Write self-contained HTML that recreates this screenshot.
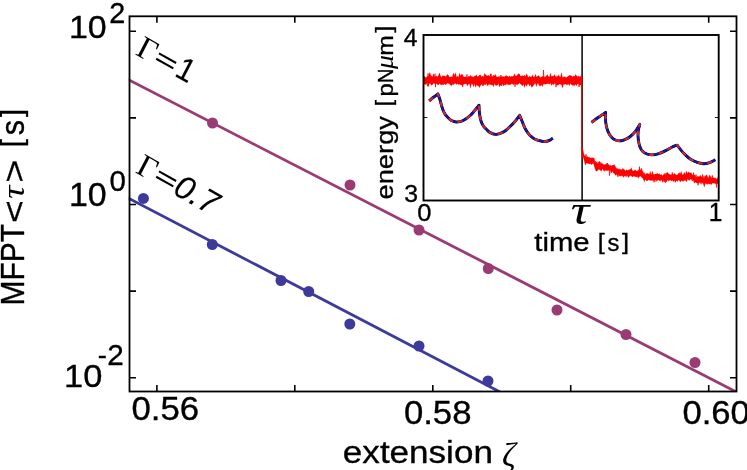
<!DOCTYPE html>
<html><head><meta charset="utf-8"><title>chart</title>
<style>
html,body{margin:0;padding:0;background:#fff;overflow:hidden;}
svg{display:block;will-change:transform;}
text{fill:#000;}
</style></head><body>
<svg width="747" height="470" viewBox="0 0 747 470">
<rect x="0" y="0" width="747" height="470" fill="#fff"/>
<defs><clipPath id="cm"><rect x="128.7" y="16.3" width="608.6" height="375.2"/></clipPath><clipPath id="ci"><rect x="423" y="34.5" width="296" height="166"/></clipPath></defs>
<g clip-path="url(#cm)">
<line x1="128" y1="79.5" x2="738" y2="392.8" stroke="#9a3b74" stroke-width="2.8"/>
<line x1="128" y1="198.0" x2="501" y2="392.5" stroke="#3e3a9c" stroke-width="2.8"/>
</g>
<circle cx="212.5" cy="123" r="5.5" fill="#9a3b74"/>
<circle cx="350" cy="185" r="5.5" fill="#9a3b74"/>
<circle cx="419" cy="230" r="5.5" fill="#9a3b74"/>
<circle cx="488.3" cy="268.5" r="5.5" fill="#9a3b74"/>
<circle cx="557" cy="310" r="5.5" fill="#9a3b74"/>
<circle cx="626" cy="334.5" r="5.5" fill="#9a3b74"/>
<circle cx="695" cy="362.5" r="5.5" fill="#9a3b74"/>
<circle cx="143.4" cy="198.4" r="5.5" fill="#3e3a9c"/>
<circle cx="212.3" cy="244.5" r="5.5" fill="#3e3a9c"/>
<circle cx="281" cy="280.5" r="5.5" fill="#3e3a9c"/>
<circle cx="308.7" cy="291.5" r="5.5" fill="#3e3a9c"/>
<circle cx="349.8" cy="324" r="5.5" fill="#3e3a9c"/>
<circle cx="419" cy="346" r="5.5" fill="#3e3a9c"/>
<circle cx="488" cy="381" r="5.5" fill="#3e3a9c"/>
<rect x="129.5" y="16.3" width="607.0" height="375.2" fill="none" stroke="#000" stroke-width="1.8"/>
<path d="M156.9 391.5v-6.5M156.9 16.3v6.5M294.8 391.5v-6.5M294.8 16.3v6.5M432.8 391.5v-6.5M432.8 16.3v6.5M570.7 391.5v-6.5M570.7 16.3v6.5M708.7 391.5v-6.5M708.7 16.3v6.5M129.5 31.3h6.5M736.5 31.3h-6.5M129.5 117.9h6.5M736.5 117.9h-6.5M129.5 204.5h6.5M736.5 204.5h-6.5M129.5 291.1h6.5M736.5 291.1h-6.5M129.5 377.7h6.5M736.5 377.7h-6.5" stroke="#000" stroke-width="1.6" fill="none"/>
<text transform="matrix(0.34785 0 0 0.32324 131.434 420.402)" font-size="100" font-family="Liberation Sans" font-style="normal" stroke="#000" stroke-width="1.04" stroke-linejoin="round">0.56</text>
<text transform="matrix(0.34758 0 0 0.32887 403.885 424.196)" font-size="100" font-family="Liberation Sans" font-style="normal" stroke="#000" stroke-width="1.03" stroke-linejoin="round">0.58</text>
<text transform="matrix(0.34679 0 0 0.32606 682.388 423.999)" font-size="100" font-family="Liberation Sans" font-style="normal" stroke="#000" stroke-width="1.04" stroke-linejoin="round">0.60</text>
<text transform="matrix(0.33990 0 0 0.32183 68.956 37.803)" font-size="100" font-family="Liberation Sans" font-style="normal" stroke="#000" stroke-width="1.06" stroke-linejoin="round">10</text>
<text transform="matrix(0.28804 0 0 0.29643 109.335 22.825)" font-size="100" font-family="Liberation Sans" font-style="normal" stroke="#000" stroke-width="1.20" stroke-linejoin="round">2</text>
<text transform="matrix(0.33990 0 0 0.32324 68.956 205.902)" font-size="100" font-family="Liberation Sans" font-style="normal" stroke="#000" stroke-width="1.06" stroke-linejoin="round">10</text>
<text transform="matrix(0.29479 0 0 0.30352 109.596 190.721)" font-size="100" font-family="Liberation Sans" font-style="normal" stroke="#000" stroke-width="1.17" stroke-linejoin="round">0</text>
<text transform="matrix(0.34495 0 0 0.32183 64.015 387.203)" font-size="100" font-family="Liberation Sans" font-style="normal" stroke="#000" stroke-width="1.05" stroke-linejoin="round">10</text>
<text transform="matrix(0.27400 0 0 0.25625 97.779 363.919)" font-size="100" font-family="Liberation Sans" font-style="normal" stroke="#000" stroke-width="1.32" stroke-linejoin="round">-</text>
<text transform="matrix(0.29674 0 0 0.28643 107.191 364.725)" font-size="100" font-family="Liberation Sans" font-style="normal" stroke="#000" stroke-width="1.20" stroke-linejoin="round">2</text>
<text transform="matrix(0.35060 0 0 0.30473 342.873 462.820)" font-size="100" font-family="Liberation Sans" font-style="normal" stroke="#000" stroke-width="1.07" stroke-linejoin="round">extension</text>
<text transform="matrix(0.34186 0 0 0.33448 501.974 465.814)" font-size="100" font-family="Liberation Serif" font-style="italic">ζ</text>
<text transform="rotate(-90) matrix(0.29981 0 0 0.32536 -305.423 23.825)" font-size="100" font-family="Liberation Sans" font-style="normal" stroke="#000" stroke-width="1.12" stroke-linejoin="round">MFPT</text>
<text transform="rotate(-90) matrix(0.39082 0 0 0.32100 -223.079 24.593)" font-size="100" font-family="Liberation Sans" font-style="normal" stroke="#000" stroke-width="0.98" stroke-linejoin="round">&lt;</text>
<text transform="rotate(-90) matrix(0.37027 0 0 0.31702 -198.741 23.983)" font-size="100" font-family="Liberation Serif" font-style="italic">τ</text>
<text transform="rotate(-90) matrix(0.39898 0 0 0.32100 -182.820 24.593)" font-size="100" font-family="Liberation Sans" font-style="normal" stroke="#000" stroke-width="0.97" stroke-linejoin="round">&gt;</text>
<text transform="rotate(-90) matrix(0.29250 0 0 0.28989 -147.272 21.537)" font-size="100" font-family="Liberation Sans" font-style="normal" stroke="#000" stroke-width="1.20" stroke-linejoin="round">[</text>
<text transform="rotate(-90) matrix(0.30581 0 0 0.32909 -135.242 23.796)" font-size="100" font-family="Liberation Sans" font-style="normal" stroke="#000" stroke-width="1.10" stroke-linejoin="round">s</text>
<text transform="rotate(-90) matrix(0.29250 0 0 0.28989 -117.118 21.537)" font-size="100" font-family="Liberation Sans" font-style="normal" stroke="#000" stroke-width="1.20" stroke-linejoin="round">]</text>
<text transform="matrix(0.87036 0.49242 -0.46175 0.88701 135.46 54.4) matrix(0.32692 0 0 0.31846 -0.981 0.000)" font-size="100" font-family="Liberation Serif" font-style="normal">Γ</text>
<g transform="matrix(0.87036 0.49242 -0.46175 0.88701 135.46 54.4)"><rect x="20.4" y="-13.6" width="19.7" height="2.1"/><rect x="20.4" y="-7.5" width="19.7" height="2.1"/></g>
<text transform="matrix(0.87036 0.49242 -0.46175 0.88701 135.46 54.4) matrix(0.30930 0 0 0.32464 43.376 -0.550)" font-size="100" font-family="Liberation Sans" font-style="normal" stroke="#000" stroke-width="0.32" stroke-linejoin="round">1</text>
<text transform="matrix(0.87036 0.49242 -0.46175 0.88701 135.46 172.4) matrix(0.32692 0 0 0.31846 -0.981 0.000)" font-size="100" font-family="Liberation Serif" font-style="normal">Γ</text>
<g transform="matrix(0.87036 0.49242 -0.46175 0.88701 135.46 172.4)"><rect x="20.4" y="-13.6" width="19.7" height="2.1"/><rect x="20.4" y="-7.5" width="19.7" height="2.1"/></g>
<text transform="matrix(0.87036 0.49242 -0.46175 0.88701 135.46 172.4) matrix(0.33116 0 0 0.32958 41.725 0.220)" font-size="100" font-family="Liberation Sans" font-style="italic" stroke="#000" stroke-width="0.30" stroke-linejoin="round">0.7</text>
<rect x="423.5" y="35.0" width="295.20000000000005" height="165.5" fill="#fff"/>
<line x1="582.1" y1="35.0" x2="582.1" y2="200.5" stroke="#000" stroke-width="1.5"/>
<g clip-path="url(#ci)"><path d="M423.50 75.73L424.50 76.38L425.50 77.50L426.50 77.18L427.50 76.27L428.50 76.26L429.50 72.54L430.50 74.57L431.50 76.78L432.50 77.02L433.50 75.90L434.50 76.73L435.50 76.47L436.50 75.99L437.50 76.93L438.50 75.61L439.50 72.86L440.50 76.12L441.50 77.32L442.50 75.74L443.50 75.92L444.50 75.81L445.50 76.84L446.50 76.21L447.50 74.27L448.50 75.51L449.50 77.32L450.50 77.09L451.50 76.71L452.50 77.22L453.50 74.26L454.50 76.45L455.50 72.78L456.50 77.51L457.50 76.08L458.50 77.55L459.50 73.08L460.50 76.61L461.50 74.28L462.50 74.49L463.50 76.65L464.50 77.28L465.50 76.66L466.50 77.33L467.50 77.37L468.50 76.18L469.50 76.55L470.50 75.20L471.50 76.54L472.50 76.69L473.50 77.18L474.50 75.99L475.50 76.11L476.50 74.69L477.50 76.85L478.50 76.57L479.50 74.96L480.50 75.05L481.50 77.06L482.50 75.98L483.50 77.06L484.50 73.39L485.50 74.48L486.50 76.34L487.50 76.01L488.50 75.15L489.50 76.58L490.50 73.63L491.50 76.86L492.50 76.16L493.50 76.88L494.50 75.48L495.50 74.44L496.50 77.07L497.50 77.16L498.50 76.86L499.50 76.77L500.50 76.31L501.50 76.88L502.50 76.53L503.50 76.91L504.50 76.99L505.50 75.69L506.50 75.83L507.50 76.33L508.50 77.08L509.50 75.76L510.50 77.03L511.50 76.31L512.50 76.52L513.50 76.18L514.50 73.71L515.50 75.88L516.50 76.07L517.50 74.71L518.50 73.81L519.50 74.01L520.50 76.59L521.50 77.28L522.50 75.39L523.50 76.16L524.50 75.05L525.50 76.68L526.50 73.87L527.50 76.45L528.50 77.20L529.50 76.12L530.50 77.00L531.50 76.68L532.50 74.90L533.50 77.30L534.50 76.91L535.50 74.27L536.50 77.32L537.50 76.43L538.50 75.43L539.50 76.74L540.50 77.41L541.50 77.10L542.50 76.46L543.50 76.18L544.50 77.17L545.50 76.91L546.50 75.47L547.50 76.34L548.50 76.75L549.50 76.79L550.50 73.32L551.50 76.46L552.50 76.11L553.50 76.16L554.50 74.58L555.50 76.73L556.50 77.22L557.50 76.99L558.50 74.89L559.50 76.62L560.50 77.19L561.50 72.82L562.50 77.78L563.50 76.96L564.50 76.68L565.50 77.24L566.50 77.44L567.50 76.75L568.50 76.07L569.50 75.59L570.50 75.92L571.50 75.78L572.50 77.02L573.50 75.95L574.50 76.57L575.50 74.38L576.50 76.03L577.50 76.53L578.50 76.37L579.50 76.72L580.50 76.38L581.50 75.15L581.50 84.85L580.50 85.11L579.50 85.09L578.50 83.39L577.50 83.28L576.50 85.71L575.50 84.49L574.50 83.89L573.50 85.61L572.50 85.28L571.50 84.76L570.50 83.31L569.50 85.61L568.50 84.28L567.50 83.85L566.50 84.46L565.50 83.95L564.50 84.55L563.50 83.84L562.50 87.89L561.50 84.21L560.50 84.38L559.50 84.06L558.50 84.85L557.50 85.33L556.50 85.06L555.50 83.33L554.50 83.46L553.50 84.85L552.50 83.82L551.50 85.48L550.50 83.11L549.50 84.09L548.50 83.52L547.50 83.27L546.50 83.93L545.50 84.12L544.50 83.89L543.50 83.75L542.50 86.44L541.50 84.64L540.50 85.85L539.50 85.97L538.50 83.79L537.50 83.00L536.50 86.43L535.50 83.02L534.50 83.83L533.50 85.26L532.50 86.73L531.50 87.36L530.50 83.82L529.50 84.07L528.50 84.24L527.50 84.14L526.50 86.26L525.50 84.36L524.50 87.45L523.50 84.01L522.50 85.90L521.50 84.87L520.50 83.73L519.50 82.76L518.50 83.93L517.50 84.65L516.50 83.95L515.50 84.32L514.50 83.61L513.50 84.99L512.50 83.59L511.50 83.66L510.50 84.63L509.50 84.53L508.50 85.09L507.50 83.63L506.50 83.83L505.50 85.25L504.50 84.53L503.50 85.88L502.50 84.14L501.50 83.97L500.50 85.45L499.50 86.78L498.50 83.44L497.50 84.88L496.50 85.42L495.50 85.30L494.50 83.62L493.50 86.83L492.50 84.66L491.50 85.06L490.50 84.44L489.50 84.17L488.50 84.41L487.50 85.89L486.50 83.30L485.50 85.05L484.50 84.15L483.50 85.00L482.50 82.93L481.50 84.50L480.50 85.39L479.50 87.56L478.50 85.39L477.50 84.95L476.50 84.67L475.50 87.25L474.50 83.45L473.50 86.63L472.50 83.91L471.50 83.16L470.50 88.07L469.50 83.63L468.50 83.89L467.50 85.88L466.50 83.89L465.50 83.62L464.50 83.82L463.50 84.19L462.50 84.98L461.50 84.95L460.50 84.84L459.50 84.32L458.50 84.50L457.50 83.85L456.50 84.41L455.50 83.14L454.50 83.78L453.50 84.71L452.50 84.32L451.50 85.76L450.50 85.02L449.50 84.07L448.50 83.60L447.50 83.07L446.50 83.90L445.50 85.11L444.50 83.86L443.50 84.65L442.50 84.73L441.50 84.87L440.50 84.59L439.50 83.58L438.50 84.98L437.50 84.52L436.50 83.47L435.50 84.20L434.50 83.43L433.50 83.32L432.50 84.53L431.50 85.32L430.50 83.65L429.50 83.19L428.50 86.79L427.50 83.09L426.50 83.76L425.50 84.51L424.50 84.16L423.50 83.47ZM582.30 147.53L583.30 151.10L584.30 155.90L585.30 155.88L586.30 157.13L587.30 156.18L588.30 157.44L589.30 157.29L590.30 158.03L591.30 157.88L592.30 157.80L593.30 157.89L594.30 158.28L595.30 164.57L596.30 161.78L597.30 163.36L598.30 163.88L599.30 161.12L600.30 162.79L601.30 164.61L602.30 163.42L603.30 164.49L604.30 164.65L605.30 164.62L606.30 163.74L607.30 163.17L608.30 164.47L609.30 165.42L610.30 165.13L611.30 165.84L612.30 165.85L613.30 165.05L614.30 164.83L615.30 166.60L616.30 168.30L617.30 168.81L618.30 169.63L619.30 169.96L620.30 170.03L621.30 169.69L622.30 169.65L623.30 170.49L624.30 170.12L625.30 171.17L626.30 169.77L627.30 170.40L628.30 170.05L629.30 170.28L630.30 169.99L631.30 167.80L632.30 170.43L633.30 170.99L634.30 170.46L635.30 169.78L636.30 171.13L637.30 170.85L638.30 170.72L639.30 168.48L640.30 170.87L641.30 168.05L642.30 170.61L643.30 172.21L644.30 174.55L645.30 174.39L646.30 173.40L647.30 174.12L648.30 174.41L649.30 174.45L650.30 171.39L651.30 175.00L652.30 171.19L653.30 174.24L654.30 174.54L655.30 174.36L656.30 173.89L657.30 173.31L658.30 174.19L659.30 173.69L660.30 174.93L661.30 174.27L662.30 175.97L663.30 174.63L664.30 174.20L665.30 175.31L666.30 172.89L667.30 172.20L668.30 173.70L669.30 174.10L670.30 174.68L671.30 174.95L672.30 171.90L673.30 175.08L674.30 173.34L675.30 175.22L676.30 175.20L677.30 174.80L678.30 173.64L679.30 172.66L680.30 173.78L681.30 171.49L682.30 174.95L683.30 174.75L684.30 172.33L685.30 174.43L686.30 171.03L687.30 173.54L688.30 171.64L689.30 172.77L690.30 172.94L691.30 172.87L692.30 174.93L693.30 174.92L694.30 174.79L695.30 177.14L696.30 177.01L697.30 177.55L698.30 176.51L699.30 176.83L700.30 175.29L701.30 176.30L702.30 177.70L703.30 177.74L704.30 178.39L705.30 176.20L706.30 174.83L707.30 175.64L708.30 178.51L709.30 175.17L710.30 175.77L711.30 178.53L712.30 175.08L713.30 177.92L714.30 178.21L715.30 177.56L716.30 179.31L717.30 178.30L718.30 176.89L718.30 183.95L717.30 183.52L716.30 184.28L715.30 183.53L714.30 183.18L713.30 183.21L712.30 182.98L711.30 184.81L710.30 183.72L709.30 184.06L708.30 183.46L707.30 184.47L706.30 183.03L705.30 183.57L704.30 187.04L703.30 183.65L702.30 182.87L701.30 182.58L700.30 182.23L699.30 182.75L698.30 183.19L697.30 182.93L696.30 182.34L695.30 182.16L694.30 183.32L693.30 180.28L692.30 181.03L691.30 179.22L690.30 178.92L689.30 180.61L688.30 179.32L687.30 179.37L686.30 181.85L685.30 179.90L684.30 180.56L683.30 180.63L682.30 181.02L681.30 180.43L680.30 181.95L679.30 180.31L678.30 179.88L677.30 181.48L676.30 180.45L675.30 182.60L674.30 180.35L673.30 181.72L672.30 180.05L671.30 180.30L670.30 180.16L669.30 180.33L668.30 180.99L667.30 180.11L666.30 181.94L665.30 180.43L664.30 182.35L663.30 179.86L662.30 181.33L661.30 179.81L660.30 181.10L659.30 180.42L658.30 179.77L657.30 180.87L656.30 179.43L655.30 179.28L654.30 180.01L653.30 180.61L652.30 180.39L651.30 180.15L650.30 180.42L649.30 180.00L648.30 179.78L647.30 180.32L646.30 180.19L645.30 179.40L644.30 181.72L643.30 178.22L642.30 177.66L641.30 176.92L640.30 175.74L639.30 176.83L638.30 178.22L637.30 176.42L636.30 176.88L635.30 176.67L634.30 176.15L633.30 176.19L632.30 176.69L631.30 176.02L630.30 175.48L629.30 176.14L628.30 177.54L627.30 175.57L626.30 174.69L625.30 176.57L624.30 175.70L623.30 177.48L622.30 175.60L621.30 175.78L620.30 176.23L619.30 175.64L618.30 174.64L617.30 175.87L616.30 174.35L615.30 175.03L614.30 173.31L613.30 172.98L612.30 171.04L611.30 173.28L610.30 170.13L609.30 171.01L608.30 170.03L607.30 170.63L606.30 170.46L605.30 170.47L604.30 169.80L603.30 170.07L602.30 168.77L601.30 171.55L600.30 169.92L599.30 169.21L598.30 169.53L597.30 170.84L596.30 171.36L595.30 169.75L594.30 165.54L593.30 163.29L592.30 163.95L591.30 164.77L590.30 163.56L589.30 163.71L588.30 163.24L587.30 163.25L586.30 162.92L585.30 165.31L584.30 160.86L583.30 157.43L582.30 153.59Z" fill="#ff0000" stroke="#ff0000" stroke-width="0.3" stroke-linejoin="round"/><path d="M423.50 81.45L424.00 80.78L424.50 79.54L425.00 79.39L425.50 78.44L426.00 81.48L426.50 78.97L427.00 83.53L427.50 86.29L428.00 73.44L428.50 79.95L429.00 78.50L429.50 75.86L430.00 82.61L430.50 78.12L431.00 80.69L431.50 76.54L432.00 75.72L432.50 78.10L433.00 82.62L433.50 74.20L434.00 79.48L434.50 82.68L435.00 73.67L435.50 87.19L436.00 76.69L436.50 82.69L437.00 79.10L437.50 81.02L438.00 78.88L438.50 75.99L439.00 83.25L439.50 80.84L440.00 82.97L440.50 81.76L441.00 81.72L441.50 83.66L442.00 81.54L442.50 81.01L443.00 79.15L443.50 78.69L444.00 78.65L444.50 76.76L445.00 82.08L445.50 84.01L446.00 80.85L446.50 80.70L447.00 75.62L447.50 79.03L448.00 80.52L448.50 82.75L449.00 82.52L449.50 79.57L450.00 79.45L450.50 79.40L451.00 80.23L451.50 81.69L452.00 79.86L452.50 79.74L453.00 75.37L453.50 73.54L454.00 80.65L454.50 82.39L455.00 74.24L455.50 80.36L456.00 78.71L456.50 80.90L457.00 78.92L457.50 80.85L458.00 82.34L458.50 81.97L459.00 80.69L459.50 77.85L460.00 75.11L460.50 82.79L461.00 82.50L461.50 82.70L462.00 77.84L462.50 87.03L463.00 85.49L463.50 80.92L464.00 78.28L464.50 77.37L465.00 83.83L465.50 80.27L466.00 79.45L466.50 75.32L467.00 74.34L467.50 80.21L468.00 80.45L468.50 78.16L469.00 78.39L469.50 81.61L470.00 82.30L470.50 82.83L471.00 80.34L471.50 80.88L472.00 83.83L472.50 78.12L473.00 78.15L473.50 80.36L474.00 81.83L474.50 83.55L475.00 76.89L475.50 84.18L476.00 80.58L476.50 78.52L477.00 77.98L477.50 80.38L478.00 86.14L478.50 77.99L479.00 81.41L479.50 83.71L480.00 80.56L480.50 81.45L481.00 83.81L481.50 80.95L482.00 78.76L482.50 85.70L483.00 82.00L483.50 85.50L484.00 80.51L484.50 80.15L485.00 77.34L485.50 80.38L486.00 81.06L486.50 78.54L487.00 75.39L487.50 77.57L488.00 79.34L488.50 79.93L489.00 84.15L489.50 80.64L490.00 79.98L490.50 80.05L491.00 73.81L491.50 82.06L492.00 78.65L492.50 77.47L493.00 77.26L493.50 75.23L494.00 81.28L494.50 76.30L495.00 81.97L495.50 81.55L496.00 83.96L496.50 80.69L497.00 80.80L497.50 79.13L498.00 82.03L498.50 78.95L499.00 76.72L499.50 83.60L500.00 81.75L500.50 83.67L501.00 75.15L501.50 85.87L502.00 76.98L502.50 80.85L503.00 80.76L503.50 76.95L504.00 76.54L504.50 81.29L505.00 81.02L505.50 78.63L506.00 82.87L506.50 79.43L507.00 84.49L507.50 83.41L508.00 79.58L508.50 83.03L509.00 80.84L509.50 77.89L510.00 83.76L510.50 81.06L511.00 79.40L511.50 82.11L512.00 80.31L512.50 83.44L513.00 80.39L513.50 81.56L514.00 83.19L514.50 79.87L515.00 86.77L515.50 79.31L516.00 77.29L516.50 84.45L517.00 82.61L517.50 78.54L518.00 78.48L518.50 81.19L519.00 79.28L519.50 80.87L520.00 82.33L520.50 76.23L521.00 84.15L521.50 75.86L522.00 79.41L522.50 78.91L523.00 82.26L523.50 77.97L524.00 76.52L524.50 80.82L525.00 76.79L525.50 81.79L526.00 78.98L526.50 78.79L527.00 75.32L527.50 80.34L528.00 82.70L528.50 79.48L529.00 81.84L529.50 85.85L530.00 84.43L530.50 85.08L531.00 79.81L531.50 81.58L532.00 83.93L532.50 79.76L533.00 80.76L533.50 79.19L534.00 77.32L534.50 82.61L535.00 83.16L535.50 82.70L536.00 78.74L536.50 78.59L537.00 81.22L537.50 80.93L538.00 76.16L538.50 78.43L539.00 77.99L539.50 82.60L540.00 81.92L540.50 78.89L541.00 78.81L541.50 78.30L542.00 78.38L542.50 81.91L543.00 83.89L543.50 70.07L544.00 80.77L544.50 82.80L545.00 84.29L545.50 83.14L546.00 82.39L546.50 76.46L547.00 80.00L547.50 74.75L548.00 83.81L548.50 76.73L549.00 83.16L549.50 79.73L550.00 81.03L550.50 83.10L551.00 80.53L551.50 79.03L552.00 82.00L552.50 83.37L553.00 79.08L553.50 78.85L554.00 81.47L554.50 81.70L555.00 76.74L555.50 81.35L556.00 87.18L556.50 82.38L557.00 75.79L557.50 78.97L558.00 79.88L558.50 81.56L559.00 78.58L559.50 78.13L560.00 81.08L560.50 79.91L561.00 82.29L561.50 76.84L562.00 81.97L562.50 86.99L563.00 78.00L563.50 84.22L564.00 77.66L564.50 79.86L565.00 79.95L565.50 79.16L566.00 78.60L566.50 80.78L567.00 84.95L567.50 84.24L568.00 77.59L568.50 76.64L569.00 77.34L569.50 81.52L570.00 75.29L570.50 75.94L571.00 79.45L571.50 78.31L572.00 79.58L572.50 79.36L573.00 80.34L573.50 77.13L574.00 80.47L574.50 85.47L575.00 80.51L575.50 77.67L576.00 75.84L576.50 81.34L577.00 80.04L577.50 83.94L578.00 80.96L578.50 76.60L579.00 86.98L579.50 80.87L580.00 79.87L580.50 77.46L581.00 84.86L581.50 75.73M583.50 155.04L584.00 154.90L584.50 160.41L585.00 160.52L585.50 157.87L586.00 154.25L586.50 160.36L587.00 159.72L587.50 162.39L588.00 157.19L588.50 157.93L589.00 163.78L589.50 159.10L590.00 162.40L590.50 161.08L591.00 158.96L591.50 157.88L592.00 158.89L592.50 159.17L593.00 160.65L593.50 159.97L594.00 161.48L594.50 162.79L595.00 166.67L595.50 161.17L596.00 167.76L596.50 162.65L597.00 165.44L597.50 168.42L598.00 161.79L598.50 162.38L599.00 167.51L599.50 166.77L600.00 169.48L600.50 165.46L601.00 162.35L601.50 163.92L602.00 165.95L602.50 167.42L603.00 167.26L603.50 167.33L604.00 171.21L604.50 171.10L605.00 167.49L605.50 167.56L606.00 167.11L606.50 165.96L607.00 166.44L607.50 163.26L608.00 165.14L608.50 165.09L609.00 167.50L609.50 175.65L610.00 170.93L610.50 168.22L611.00 166.54L611.50 171.22L612.00 167.21L612.50 168.10L613.00 165.02L613.50 169.39L614.00 166.13L614.50 172.80L615.00 169.69L615.50 175.16L616.00 170.30L616.50 171.91L617.00 171.49L617.50 168.75L618.00 176.83L618.50 172.15L619.00 168.61L619.50 174.78L620.00 169.04L620.50 170.03L621.00 174.56L621.50 172.88L622.00 175.47L622.50 168.69L623.00 174.59L623.50 168.85L624.00 175.33L624.50 169.77L625.00 172.47L625.50 173.78L626.00 174.16L626.50 176.55L627.00 170.49L627.50 171.04L628.00 173.01L628.50 176.81L629.00 176.56L629.50 175.27L630.00 169.08L630.50 170.99L631.00 170.37L631.50 173.75L632.00 174.80L632.50 176.49L633.00 171.26L633.50 175.61L634.00 175.64L634.50 173.51L635.00 173.88L635.50 172.38L636.00 173.04L636.50 173.65L637.00 175.43L637.50 171.88L638.00 174.24L638.50 171.57L639.00 176.26L639.50 166.74L640.00 174.39L640.50 175.86L641.00 169.88L641.50 172.51L642.00 174.80L642.50 173.73L643.00 178.26L643.50 179.41L644.00 173.51L644.50 172.76L645.00 175.81L645.50 177.47L646.00 177.18L646.50 177.70L647.00 181.01L647.50 173.29L648.00 177.92L648.50 173.79L649.00 178.33L649.50 177.62L650.00 176.39L650.50 175.57L651.00 178.78L651.50 178.46L652.00 175.95L652.50 177.46L653.00 177.16L653.50 177.02L654.00 182.27L654.50 178.50L655.00 180.47L655.50 173.98L656.00 181.57L656.50 180.34L657.00 175.54L657.50 178.07L658.00 176.65L658.50 176.28L659.00 176.90L659.50 174.83L660.00 177.33L660.50 179.84L661.00 178.66L661.50 175.92L662.00 175.63L662.50 181.93L663.00 181.98L663.50 179.23L664.00 175.81L664.50 177.86L665.00 173.16L665.50 182.69L666.00 179.09L666.50 179.06L667.00 177.33L667.50 175.06L668.00 178.30L668.50 174.97L669.00 178.93L669.50 175.26L670.00 178.91L670.50 176.79L671.00 179.20L671.50 181.02L672.00 178.43L672.50 178.05L673.00 177.38L673.50 179.08L674.00 178.70L674.50 173.83L675.00 177.36L675.50 174.46L676.00 178.34L676.50 175.75L677.00 177.21L677.50 177.62L678.00 178.80L678.50 176.35L679.00 176.72L679.50 178.57L680.00 180.26L680.50 177.62L681.00 180.00L681.50 179.81L682.00 175.85L682.50 180.42L683.00 181.37L683.50 178.84L684.00 174.40L684.50 176.72L685.00 178.51L685.50 176.59L686.00 176.83L686.50 180.84L687.00 176.09L687.50 175.29L688.00 174.23L688.50 175.42L689.00 180.06L689.50 174.23L690.00 174.26L690.50 177.01L691.00 175.98L691.50 177.70L692.00 178.82L692.50 179.45L693.00 179.60L693.50 172.67L694.00 178.77L694.50 175.13L695.00 178.67L695.50 177.29L696.00 174.50L696.50 182.66L697.00 182.62L697.50 176.35L698.00 185.24L698.50 178.97L699.00 178.92L699.50 178.18L700.00 177.04L700.50 181.46L701.00 184.16L701.50 179.72L702.00 182.12L702.50 174.52L703.00 179.42L703.50 179.18L704.00 175.72L704.50 179.26L705.00 178.26L705.50 180.31L706.00 179.55L706.50 183.64L707.00 183.22L707.50 179.98L708.00 179.50L708.50 180.48L709.00 180.16L709.50 182.95L710.00 183.16L710.50 182.28L711.00 177.97L711.50 179.51L712.00 178.21L712.50 181.59L713.00 180.33L713.50 182.48L714.00 177.95L714.50 182.96L715.00 182.08L715.50 179.81L716.00 179.66L716.50 187.45L717.00 181.56L717.50 181.82L718.00 183.17L718.50 182.01" fill="none" stroke="#ff0000" stroke-width="0.75" stroke-linejoin="round"/><path d="M581.8 77V150L582.6 158" stroke="#ff0000" stroke-width="1.1" fill="none"/></g>
<path d="M429.2 100.8C429.97 100.17 432.35 98.15 433.80 97.00C435.25 95.85 437.22 94.42 437.90 93.90C438.20 94.72 439.13 97.02 439.70 98.80C440.27 100.58 440.77 102.78 441.30 104.60C441.83 106.42 442.27 108.10 442.90 109.70C443.53 111.30 444.30 112.93 445.10 114.20C445.90 115.47 446.63 116.23 447.70 117.30C448.77 118.37 450.10 119.82 451.50 120.60C452.90 121.38 454.52 121.88 456.10 122.00C457.68 122.12 459.53 121.70 461.00 121.30C462.47 120.90 463.32 120.60 464.90 119.60C466.48 118.60 468.83 116.87 470.50 115.30C472.17 113.73 473.48 111.88 474.90 110.20C476.32 108.52 478.32 106.03 479.00 105.20C479.07 106.47 479.07 110.17 479.40 112.80C479.73 115.43 480.32 118.77 481.00 121.00C481.68 123.23 482.60 124.82 483.50 126.20C484.40 127.58 485.28 128.23 486.40 129.30C487.52 130.37 488.55 131.75 490.20 132.60C491.85 133.45 493.98 134.57 496.30 134.40C498.62 134.23 502.07 132.67 504.10 131.60C506.13 130.53 506.77 129.60 508.50 128.00C510.23 126.40 512.63 124.12 514.50 122.00C516.37 119.88 518.83 116.42 519.70 115.30C520.18 116.50 521.63 120.17 522.60 122.50C523.57 124.83 524.30 127.18 525.50 129.30C526.70 131.42 528.10 133.50 529.80 135.20C531.50 136.90 533.57 138.47 535.70 139.50C537.83 140.53 540.97 141.07 542.60 141.40C544.23 141.73 544.35 141.67 545.50 141.50C546.65 141.33 548.28 140.95 549.50 140.40C550.72 139.85 552.25 138.57 552.80 138.20" fill="none" stroke="#000" stroke-width="2.9" stroke-linejoin="round"/>
<path d="M429.2 100.8C429.97 100.17 432.35 98.15 433.80 97.00C435.25 95.85 437.22 94.42 437.90 93.90C438.20 94.72 439.13 97.02 439.70 98.80C440.27 100.58 440.77 102.78 441.30 104.60C441.83 106.42 442.27 108.10 442.90 109.70C443.53 111.30 444.30 112.93 445.10 114.20C445.90 115.47 446.63 116.23 447.70 117.30C448.77 118.37 450.10 119.82 451.50 120.60C452.90 121.38 454.52 121.88 456.10 122.00C457.68 122.12 459.53 121.70 461.00 121.30C462.47 120.90 463.32 120.60 464.90 119.60C466.48 118.60 468.83 116.87 470.50 115.30C472.17 113.73 473.48 111.88 474.90 110.20C476.32 108.52 478.32 106.03 479.00 105.20C479.07 106.47 479.07 110.17 479.40 112.80C479.73 115.43 480.32 118.77 481.00 121.00C481.68 123.23 482.60 124.82 483.50 126.20C484.40 127.58 485.28 128.23 486.40 129.30C487.52 130.37 488.55 131.75 490.20 132.60C491.85 133.45 493.98 134.57 496.30 134.40C498.62 134.23 502.07 132.67 504.10 131.60C506.13 130.53 506.77 129.60 508.50 128.00C510.23 126.40 512.63 124.12 514.50 122.00C516.37 119.88 518.83 116.42 519.70 115.30C520.18 116.50 521.63 120.17 522.60 122.50C523.57 124.83 524.30 127.18 525.50 129.30C526.70 131.42 528.10 133.50 529.80 135.20C531.50 136.90 533.57 138.47 535.70 139.50C537.83 140.53 540.97 141.07 542.60 141.40C544.23 141.73 544.35 141.67 545.50 141.50C546.65 141.33 548.28 140.95 549.50 140.40C550.72 139.85 552.25 138.57 552.80 138.20" fill="none" stroke="#1414b8" stroke-width="2.1" stroke-linejoin="round"/>
<path d="M429.2 100.8C429.97 100.17 432.35 98.15 433.80 97.00C435.25 95.85 437.22 94.42 437.90 93.90C438.20 94.72 439.13 97.02 439.70 98.80C440.27 100.58 440.77 102.78 441.30 104.60C441.83 106.42 442.27 108.10 442.90 109.70C443.53 111.30 444.30 112.93 445.10 114.20C445.90 115.47 446.63 116.23 447.70 117.30C448.77 118.37 450.10 119.82 451.50 120.60C452.90 121.38 454.52 121.88 456.10 122.00C457.68 122.12 459.53 121.70 461.00 121.30C462.47 120.90 463.32 120.60 464.90 119.60C466.48 118.60 468.83 116.87 470.50 115.30C472.17 113.73 473.48 111.88 474.90 110.20C476.32 108.52 478.32 106.03 479.00 105.20C479.07 106.47 479.07 110.17 479.40 112.80C479.73 115.43 480.32 118.77 481.00 121.00C481.68 123.23 482.60 124.82 483.50 126.20C484.40 127.58 485.28 128.23 486.40 129.30C487.52 130.37 488.55 131.75 490.20 132.60C491.85 133.45 493.98 134.57 496.30 134.40C498.62 134.23 502.07 132.67 504.10 131.60C506.13 130.53 506.77 129.60 508.50 128.00C510.23 126.40 512.63 124.12 514.50 122.00C516.37 119.88 518.83 116.42 519.70 115.30C520.18 116.50 521.63 120.17 522.60 122.50C523.57 124.83 524.30 127.18 525.50 129.30C526.70 131.42 528.10 133.50 529.80 135.20C531.50 136.90 533.57 138.47 535.70 139.50C537.83 140.53 540.97 141.07 542.60 141.40C544.23 141.73 544.35 141.67 545.50 141.50C546.65 141.33 548.28 140.95 549.50 140.40C550.72 139.85 552.25 138.57 552.80 138.20" fill="none" stroke="#d42626" stroke-width="2.1" stroke-dasharray="4.8 4.8" stroke-linejoin="round"/>
<path d="M591.5 122.4C592.67 121.55 596.15 118.97 598.50 117.30C600.85 115.63 604.42 113.22 605.60 112.40C605.60 113.83 605.37 118.28 605.60 121.00C605.83 123.72 606.35 126.43 607.00 128.70C607.65 130.97 608.45 132.90 609.50 134.60C610.55 136.30 611.75 137.85 613.30 138.90C614.85 139.95 616.97 140.75 618.80 140.90C620.63 141.05 622.38 140.53 624.30 139.80C626.22 139.07 628.45 137.90 630.30 136.50C632.15 135.10 633.82 133.42 635.40 131.40C636.98 129.38 639.07 125.57 639.80 124.40C639.53 125.52 638.47 128.72 638.20 131.10C637.93 133.48 637.93 136.15 638.20 138.70C638.47 141.25 639.03 144.27 639.80 146.40C640.57 148.53 641.60 150.23 642.80 151.50C644.00 152.77 645.45 153.43 647.00 154.00C648.55 154.57 650.12 154.97 652.10 154.90C654.08 154.83 656.63 154.32 658.90 153.60C661.17 152.88 663.57 151.67 665.70 150.60C667.83 149.53 669.78 148.12 671.70 147.20C673.62 146.28 676.28 145.45 677.20 145.10C677.87 145.98 679.77 148.68 681.20 150.40C682.63 152.12 684.15 153.87 685.80 155.40C687.45 156.93 689.18 158.43 691.10 159.60C693.02 160.77 695.25 161.72 697.30 162.40C699.35 163.08 701.48 163.62 703.40 163.70C705.32 163.78 706.82 163.55 708.80 162.90C710.78 162.25 714.22 160.32 715.30 159.80" fill="none" stroke="#000" stroke-width="2.9" stroke-linejoin="round"/>
<path d="M591.5 122.4C592.67 121.55 596.15 118.97 598.50 117.30C600.85 115.63 604.42 113.22 605.60 112.40C605.60 113.83 605.37 118.28 605.60 121.00C605.83 123.72 606.35 126.43 607.00 128.70C607.65 130.97 608.45 132.90 609.50 134.60C610.55 136.30 611.75 137.85 613.30 138.90C614.85 139.95 616.97 140.75 618.80 140.90C620.63 141.05 622.38 140.53 624.30 139.80C626.22 139.07 628.45 137.90 630.30 136.50C632.15 135.10 633.82 133.42 635.40 131.40C636.98 129.38 639.07 125.57 639.80 124.40C639.53 125.52 638.47 128.72 638.20 131.10C637.93 133.48 637.93 136.15 638.20 138.70C638.47 141.25 639.03 144.27 639.80 146.40C640.57 148.53 641.60 150.23 642.80 151.50C644.00 152.77 645.45 153.43 647.00 154.00C648.55 154.57 650.12 154.97 652.10 154.90C654.08 154.83 656.63 154.32 658.90 153.60C661.17 152.88 663.57 151.67 665.70 150.60C667.83 149.53 669.78 148.12 671.70 147.20C673.62 146.28 676.28 145.45 677.20 145.10C677.87 145.98 679.77 148.68 681.20 150.40C682.63 152.12 684.15 153.87 685.80 155.40C687.45 156.93 689.18 158.43 691.10 159.60C693.02 160.77 695.25 161.72 697.30 162.40C699.35 163.08 701.48 163.62 703.40 163.70C705.32 163.78 706.82 163.55 708.80 162.90C710.78 162.25 714.22 160.32 715.30 159.80" fill="none" stroke="#1414b8" stroke-width="2.1" stroke-linejoin="round"/>
<path d="M591.5 122.4C592.67 121.55 596.15 118.97 598.50 117.30C600.85 115.63 604.42 113.22 605.60 112.40C605.60 113.83 605.37 118.28 605.60 121.00C605.83 123.72 606.35 126.43 607.00 128.70C607.65 130.97 608.45 132.90 609.50 134.60C610.55 136.30 611.75 137.85 613.30 138.90C614.85 139.95 616.97 140.75 618.80 140.90C620.63 141.05 622.38 140.53 624.30 139.80C626.22 139.07 628.45 137.90 630.30 136.50C632.15 135.10 633.82 133.42 635.40 131.40C636.98 129.38 639.07 125.57 639.80 124.40C639.53 125.52 638.47 128.72 638.20 131.10C637.93 133.48 637.93 136.15 638.20 138.70C638.47 141.25 639.03 144.27 639.80 146.40C640.57 148.53 641.60 150.23 642.80 151.50C644.00 152.77 645.45 153.43 647.00 154.00C648.55 154.57 650.12 154.97 652.10 154.90C654.08 154.83 656.63 154.32 658.90 153.60C661.17 152.88 663.57 151.67 665.70 150.60C667.83 149.53 669.78 148.12 671.70 147.20C673.62 146.28 676.28 145.45 677.20 145.10C677.87 145.98 679.77 148.68 681.20 150.40C682.63 152.12 684.15 153.87 685.80 155.40C687.45 156.93 689.18 158.43 691.10 159.60C693.02 160.77 695.25 161.72 697.30 162.40C699.35 163.08 701.48 163.62 703.40 163.70C705.32 163.78 706.82 163.55 708.80 162.90C710.78 162.25 714.22 160.32 715.30 159.80" fill="none" stroke="#d42626" stroke-width="2.1" stroke-dasharray="4.8 4.8" stroke-linejoin="round"/>
<rect x="423.5" y="35.0" width="295.20000000000005" height="165.5" fill="none" stroke="#000" stroke-width="1.9"/>
<path d="M423.5 117.5h3.8M718.7 117.5h-3.8" stroke="#000" stroke-width="0.9"/>
<text transform="matrix(0.24787 0 0 0.24437 404.184 201.781)" font-size="100" font-family="Liberation Sans" font-style="normal" stroke="#000" stroke-width="1.42" stroke-linejoin="round">3</text>
<text transform="matrix(0.24608 0 0 0.24632 403.683 46.471)" font-size="100" font-family="Liberation Sans" font-style="normal" stroke="#000" stroke-width="1.42" stroke-linejoin="round">4</text>
<text transform="matrix(0.25521 0 0 0.24577 417.354 220.579)" font-size="100" font-family="Liberation Sans" font-style="normal" stroke="#000" stroke-width="1.40" stroke-linejoin="round">0</text>
<text transform="matrix(0.24535 0 0 0.25000 708.712 220.825)" font-size="100" font-family="Liberation Sans" font-style="normal" stroke="#000" stroke-width="1.41" stroke-linejoin="round">1</text>
<text transform="matrix(0.51892 0 0 0.41489 570.762 223.885)" font-size="100" font-family="Liberation Serif" font-style="italic">τ</text>
<text transform="matrix(0.29258 0 0 0.25473 534.290 250.570)" font-size="100" font-family="Liberation Sans" font-style="normal" stroke="#000" stroke-width="1.28" stroke-linejoin="round">time</text>
<text transform="matrix(0.25250 0 0 0.22819 597.807 248.933)" font-size="100" font-family="Liberation Sans" font-style="normal" stroke="#000" stroke-width="1.46" stroke-linejoin="round">[</text>
<text transform="matrix(0.23837 0 0 0.24455 607.460 250.780)" font-size="100" font-family="Liberation Sans" font-style="normal" stroke="#000" stroke-width="1.45" stroke-linejoin="round">s</text>
<text transform="matrix(0.25250 0 0 0.22819 622.022 248.933)" font-size="100" font-family="Liberation Sans" font-style="normal" stroke="#000" stroke-width="1.46" stroke-linejoin="round">]</text>
<text transform="rotate(-90) matrix(0.27326 0 0 0.23933 -199.518 392.699)" font-size="100" font-family="Liberation Sans" font-style="normal" stroke="#000" stroke-width="1.37" stroke-linejoin="round">energy</text>
<text transform="rotate(-90) matrix(0.23750 0 0 0.22819 -106.587 391.133)" font-size="100" font-family="Liberation Sans" font-style="normal" stroke="#000" stroke-width="1.50" stroke-linejoin="round">[</text>
<text transform="rotate(-90) matrix(0.23750 0 0 0.22333 -96.487 392.835)" font-size="100" font-family="Liberation Sans" font-style="normal" stroke="#000" stroke-width="1.52" stroke-linejoin="round">p</text>
<text transform="rotate(-90) matrix(0.20446 0 0 0.22246 -83.161 392.725)" font-size="100" font-family="Liberation Sans" font-style="normal" stroke="#000" stroke-width="1.64" stroke-linejoin="round">N</text>
<text transform="rotate(-90) matrix(0.27660 0 0 0.25224 -69.000 393.403)" font-size="100" font-family="Liberation Serif" font-style="italic">μ</text>
<text transform="rotate(-90) matrix(0.24643 0 0 0.22130 -55.850 392.725)" font-size="100" font-family="Liberation Sans" font-style="normal" stroke="#000" stroke-width="1.50" stroke-linejoin="round">m</text>
<text transform="rotate(-90) matrix(0.25250 0 0 0.22819 -32.778 391.133)" font-size="100" font-family="Liberation Sans" font-style="normal" stroke="#000" stroke-width="1.46" stroke-linejoin="round">]</text>
</svg>
</body></html>
